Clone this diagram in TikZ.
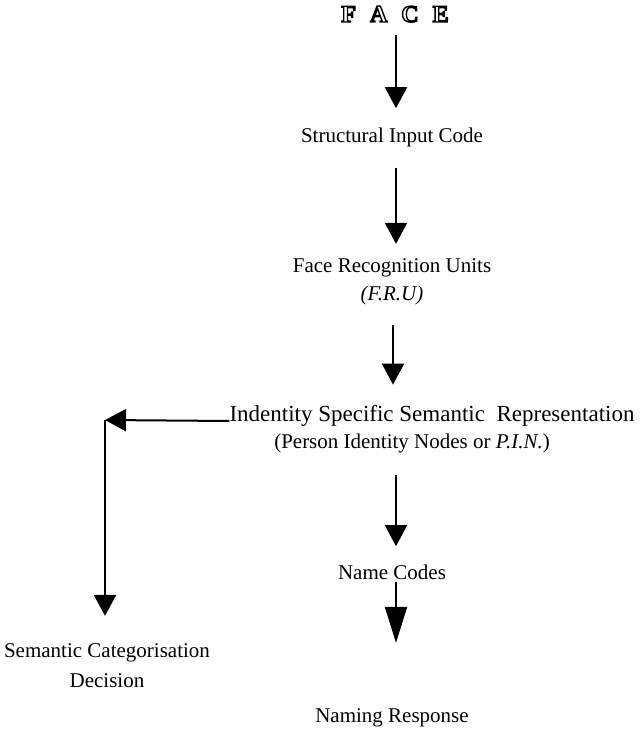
\documentclass[tikz,border=0pt]{standalone}
\usepackage{fontspec}
\setmainfont{Liberation Serif}
\usetikzlibrary{arrows.meta,positioning}
\newcommand{\hollow}[1]{\special{pdf:literal direct 1 Tr 1.4 w}#1\special{pdf:literal direct 0 Tr}}

\begin{document}
\begin{tikzpicture}[x=1pt,y=1pt,
  font=\fontsize{21}{25}\selectfont,
  lbl/.style={inner sep=0pt,anchor=base},
  arr/.style={-{Triangle[width=22pt,length=21pt]},line width=2pt,black}
]
\useasboundingbox (0,0) rectangle (642,-738);
% titulo
\node[lbl,font=\fontsize{24}{28}\selectfont\bfseries] (face) at (395,-22) {\hollow{F\hspace{14pt}A\hspace{14pt}C\hspace{14pt}E}};
% etapas
\node[lbl] (sic) at (392,-143) {Structural Input Code};
\node[lbl] (fru) at (392,-272) {Face Recognition Units};
\node[lbl] (fruab) at (392,-300) {\textit{(F.R.U)}};
\node[lbl,font=\fontsize{23}{27}\selectfont] (issr) at (432,-421) {Indentity Specific Semantic\ \ Representation};
\node[lbl] (pin) at (412,-448) {(Person Identity Nodes or \textit{P.I.N.})};
\node[lbl] (name) at (392,-579) {Name Codes};
\node[lbl] (resp) at (392,-722) {Naming Response};
% rama lateral
\node[lbl] (sem) at (107,-657) {Semantic Categorisation};
\node[lbl] (dec) at (107,-687) {Decision};
\coordinate (corner) at (105,-420);

\draw[arr] ([xshift=1pt,yshift=-13pt]face.south) -- ([xshift=4pt,yshift=20pt]sic.north);
\draw[arr] ([xshift=4pt,yshift=-20pt]sic.south) -- ([xshift=4pt,yshift=14pt]fru.north);
\draw[arr] ([xshift=1pt,yshift=-20pt]fruab.south) -- ([xshift=1pt,yshift=20pt]issr.north -| fruab.south);
\draw[arr] (issr.base west) -- (corner);
\draw[arr] (corner) -- ([yshift=27pt]sem.north -| corner);
\draw[arr] ([xshift=4pt,yshift=-22pt]pin.south -| name.north) -- ([xshift=4pt,yshift=18pt]name.north);
\draw[arr,-{Triangle[width=22pt,length=36pt]}] ([xshift=4pt,yshift=-3pt]name.south) -- ([xshift=4pt,yshift=65pt]resp.north);
\end{tikzpicture}
\end{document}
